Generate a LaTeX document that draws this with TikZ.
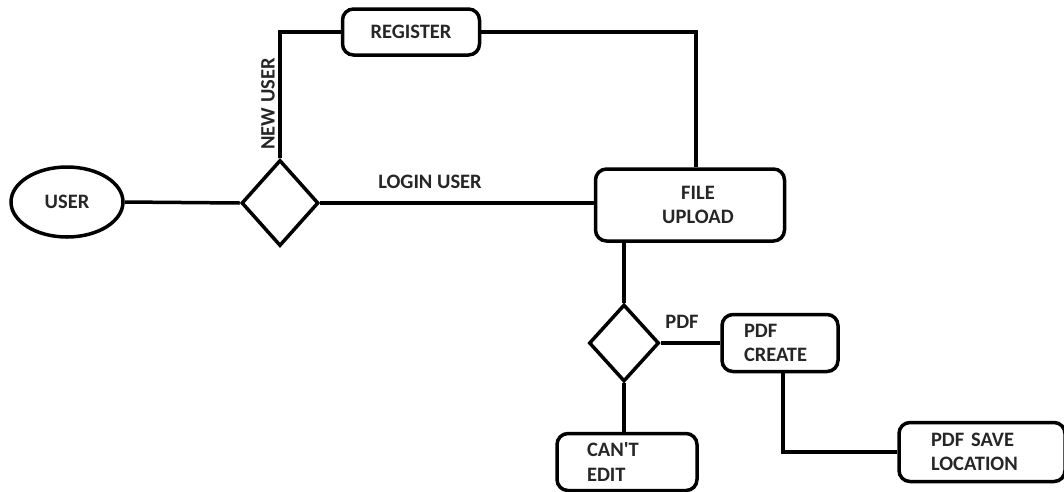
\documentclass[tikz,border=0pt]{standalone}
\usepackage{fontspec}
\setmainfont{Carlito}
\usetikzlibrary{shapes.geometric}
\definecolor{txt}{HTML}{262626}
\tikzset{
  every node/.style={font=\bfseries\fontsize{20.5}{24.5}\selectfont, text=txt},
  link/.style={line width=3.5pt, line join=miter},
  box/.style={draw, line width=3.5pt, rounded corners=11pt, inner sep=0pt},
  dec/.style={draw, diamond, line width=3.5pt, inner sep=0pt},
  lbl/.style={inner sep=0pt}
}
\begin{document}
\begin{tikzpicture}[x=1pt,y=-1pt]
\useasboundingbox (0,0) rectangle (1064,491);
\node[draw, ellipse, line width=3.5pt, minimum width=112, minimum height=70, inner sep=0pt] (user) at (67,202) {USER};
\node[dec, minimum width=77, minimum height=86] (d1) at (280,203) {};
\node[box, minimum width=137, minimum height=46] (reg) at (411,32) {REGISTER};
\node[box, minimum width=189, minimum height=72, text width=169, align=center] (file) at (690,205) {\hspace*{16pt}FILE\\\hspace*{16pt}UPLOAD};
\node[dec, minimum width=70, minimum height=77] (d2) at (624,343) {};
\node[box, minimum width=116, minimum height=57, text width=96, align=left] (pdfc) at (780,343) {\hspace*{12pt}PDF\\\hspace*{12pt}CREATE};
\node[box, minimum width=140, minimum height=57, text width=120, align=left] (cant) at (627,462) {\hspace*{20pt}CAN\textquotesingle T\\\hspace*{20pt}EDIT};
\node[box, minimum width=166, minimum height=59, text width=146, align=left] (save) at (982,452) {\hspace*{22pt}PDF SAVE\\\hspace*{22pt}LOCATION};
\draw[link] (user.east) -- (d1.west);
\draw[link] (d1.north) |- (reg.west);
\draw[link] (reg.east) -| ([xshift=6pt]file.north);
\draw[link] (d1.east) -- (d1.east -| file.west);
\draw[link] (d2.north) -- (d2.north |- file.south);
\draw[link] (d2.east) -- (d2.east -| pdfc.west);
\draw[link] (d2.south) -- (d2.south |- cant.north);
\draw[link] ([xshift=3pt]pdfc.south) |- (save.west);
\node[lbl, rotate=90] (newuser) at (268,104) {NEW USER};
\node[lbl] (login) at (430,182) {LOGIN USER};
\node[lbl] (pdf) at (682,322) {PDF};
\end{tikzpicture}
\end{document}
